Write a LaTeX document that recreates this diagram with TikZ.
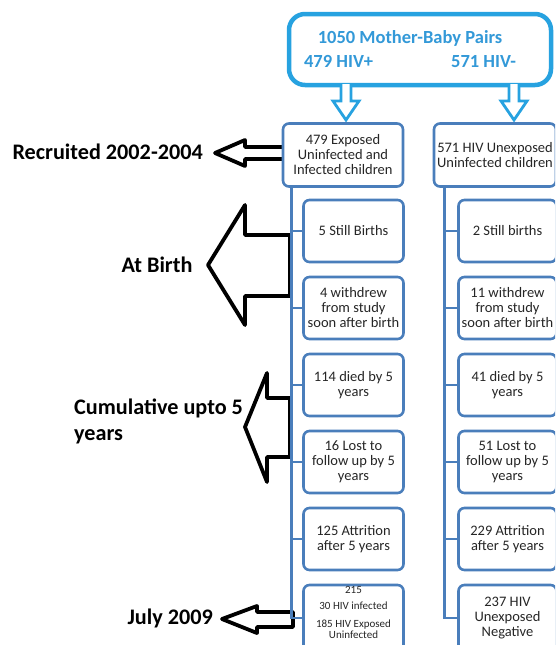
\documentclass[tikz,border=0pt]{standalone}
\usepackage{fontspec}
\setmainfont{Carlito}
\usetikzlibrary{calc}
\definecolor{Sky}{HTML}{27A2E0}
\definecolor{SkyInk}{HTML}{3399D8}
\definecolor{Steel}{HTML}{4A7EBB}
\definecolor{Ink}{HTML}{262626}
\tikzset{
  hdr/.style={draw=Sky,line width=4.5pt,rounded corners=16pt,fill=white,text=SkyInk,
    font=\bfseries\fontsize{18.5}{24}\selectfont,align=center,minimum width=262pt,minimum height=71pt},
  drop/.style={draw=Sky,line width=2.8pt,fill=white,line join=miter},
  grp/.style={draw=Steel,line width=2.6pt,rounded corners=6pt,fill=white,text=Ink,
    font=\fontsize{14.5}{15}\selectfont,align=center,inner sep=1pt,minimum height=63pt},
  lkid/.style={grp,minimum width=100pt,minimum height=62pt},
  rkid/.style={grp,minimum width=98pt,minimum height=62pt},
  link/.style={draw=Steel,line width=2.6pt},
  blk/.style={draw=black,line width=3.8pt,fill=white,line join=round},
  lab/.style={font=\bfseries\fontsize{22.2}{26}\selectfont,text=black,inner sep=0pt}
}
\begin{document}
\begin{tikzpicture}[x=1pt,y=-1pt]
  \path[use as bounding box,clip] (0,0) rectangle (555,645);
  % header
  \node[hdr] (pairs) at (420,49.5) {1050 Mother-Baby Pairs\hspace*{20pt}\\479 HIV+\hspace{78pt}571 HIV-\hspace*{20pt}};
  \foreach \c in {346,514}
    \draw[drop] (\c-5,84) -- (\c-5,101) -- (\c-13,101) -- (\c,120) -- (\c+13,101) -- (\c+5,101) -- (\c+5,84);
  % period arrows
  \draw[blk] (215,153) -- (245,140) -- (245,147) -- (286,147) -- (286,159) -- (245,159) -- (245,166) -- cycle;
  \draw[blk] (208,265) -- (245,205) -- (245,235) -- (290,235) -- (290,296) -- (245,296) -- (245,325) -- cycle;
  \draw[blk] (245,427) -- (267,373) -- (267,398) -- (290,398) -- (290,457) -- (267,457) -- (267,482) -- cycle;
  \draw[blk] (222,619) -- (257,606) -- (257,612) -- (293,612) -- (293,627) -- (257,627) -- (257,633) -- cycle;
  \node[lab,anchor=east] (recr) at (203,152) {Recruited 2002-2004};
  \node[lab] (birth) at (157,265) {At Birth};
  \node[lab,anchor=west,align=left] (cumu) at (74,421) {Cumulative upto 5\\years};
  \node[lab,anchor=east] (july) at (213,618) {July 2009};
  % columns
  \node[grp,minimum width=120pt] (exp) at (343,155) {479 Exposed\\Uninfected and\\Infected children};
  \node[grp,minimum width=122pt] (unexp) at (495,155) {571 HIV Unexposed\\Uninfected children};
  \coordinate (lt) at ($(exp.south west)+(10,0)$);
  \coordinate (rt) at ($(unexp.south west)+(12,0)$);
  \node[lkid] (l1) at (353.5,231) {5 Still Births};
  \node[lkid] (l2) at (353.5,308) {4 withdrew\\from study\\soon after birth};
  \node[lkid] (l3) at (353.5,385) {114 died by 5\\years};
  \node[lkid] (l4) at (353.5,462) {16 Lost to\\follow up by 5\\years};
  \node[lkid] (l5) at (353.5,539) {125 Attrition\\after 5 years};
  \node[lkid,minimum height=66pt,font=\fontsize{11}{16}\selectfont] (l6) at (353.5,618)
    {\raisebox{5pt}[\height][\depth]{\begin{tabular}{@{}c@{}}215\\30 HIV infected\\[2pt]185 HIV Exposed\\[-5pt]Uninfected\end{tabular}}};
  \node[rkid] (r1) at (507.5,231) {2 Still births};
  \node[rkid] (r2) at (507.5,308) {11 withdrew\\from study\\soon after birth};
  \node[rkid] (r3) at (507.5,385) {41 died by 5\\years};
  \node[rkid] (r4) at (507.5,462) {51 Lost to\\follow up by 5\\years};
  \node[rkid] (r5) at (507.5,539) {229 Attrition\\after 5 years};
  \node[rkid,minimum height=66pt] (r6) at (507.5,618) {237 HIV\\Unexposed\\Negative};
  \draw[link] (lt) |- (l6.west);
  \draw[link] (rt) |- (r6.west);
  \foreach \k in {1,...,5} {
    \draw[link] (l\k.west -| lt) -- (l\k.west);
    \draw[link] (r\k.west -| rt) -- (r\k.west);
  }
\end{tikzpicture}
\end{document}
